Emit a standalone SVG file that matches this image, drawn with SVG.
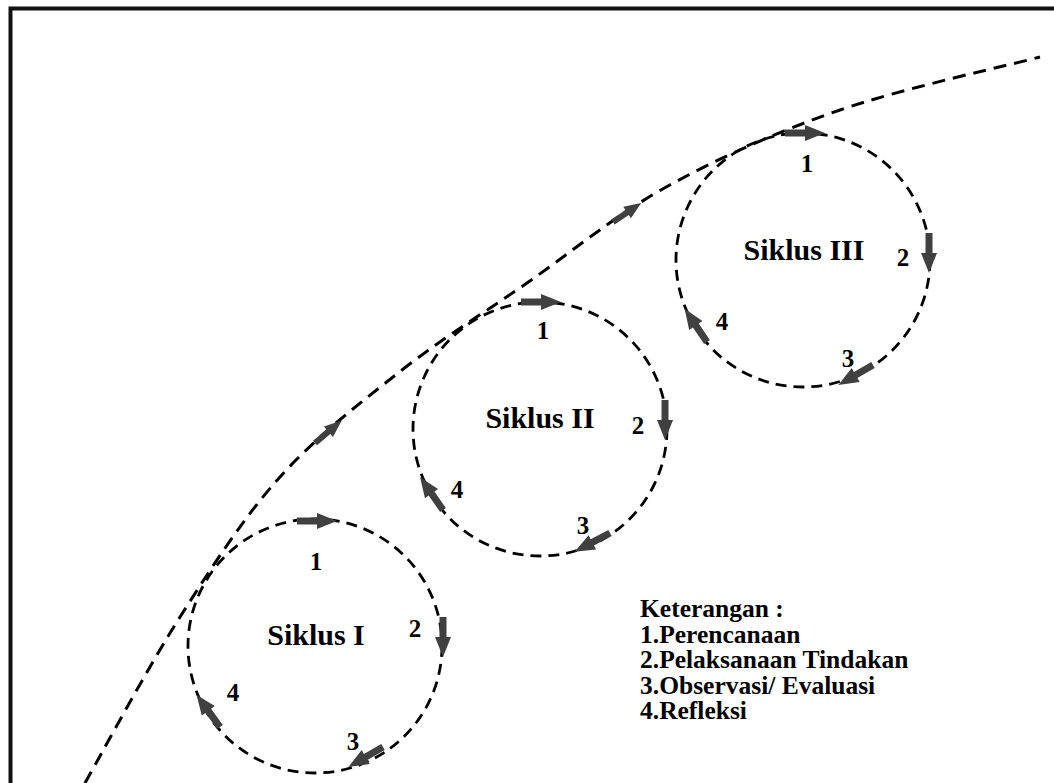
<svg xmlns="http://www.w3.org/2000/svg" width="1054" height="783" viewBox="0 0 1054 783">
<style>
.cyc{fill:none;stroke:#000;stroke-width:2.8;stroke-dasharray:11 7}
.main{fill:none;stroke:#000;stroke-width:3;stroke-dasharray:13 8}
.arw{fill:#404040}
.lbl{font-family:"Liberation Serif","Times New Roman",serif;font-weight:bold;fill:#000}
.title{font-size:30px;text-anchor:middle}
.num{font-size:25px;text-anchor:middle}
.leg{font-size:25.5px}
</style>
<defs>
<path id="arr" class="arw" d="M0,-3.5 H20 V-8 L40,0 L20,8 V3.5 H0 Z"/>
</defs>
<rect x="0" y="0" width="1054" height="783" fill="#fff"/>
<path d="M10.5,783 V8.5 H1054" fill="none" stroke="#111" stroke-width="4"/>

<g id="connectors">
<path class="main" d="M85,783 C100.8,755.3 147.5,668 180,617 C212.5,566 243,518.2 280,477 C317,435.8 360.8,402.3 402,370 C443.2,337.7 482.7,313.7 527,283 C571.3,252.3 615.8,214.8 668,186 C720.2,157.2 778,131.5 840,110 C902,88.5 1006.7,65.8 1040,57"/>
<use href="#arr" transform="translate(315,443) rotate(-40) scale(0.875)"/>
<use href="#arr" transform="translate(613,222) rotate(-34) scale(0.85)"/>
</g>

<g id="siklus1">
<circle class="cyc" cx="315" cy="646" r="127"/>
<use href="#arr" transform="translate(297,521)"/>
<use href="#arr" transform="translate(443,617) rotate(90)"/>
<use href="#arr" transform="translate(383,747) rotate(150)"/>
<use href="#arr" transform="translate(220,727) rotate(234)"/>
<text class="lbl title" x="316" y="645">Siklus I</text>
<text class="lbl num" x="316" y="570">1</text>
<text class="lbl num" x="415" y="637">2</text>
<text class="lbl num" x="353" y="750">3</text>
<text class="lbl num" x="233" y="701">4</text>
</g>

<g id="siklus2">
<circle class="cyc" cx="540" cy="429" r="127"/>
<use href="#arr" transform="translate(521,302)"/>
<use href="#arr" transform="translate(665,400) rotate(90)"/>
<use href="#arr" transform="translate(610,533) rotate(152)"/>
<use href="#arr" transform="translate(443,510) rotate(235)"/>
<text class="lbl title" x="540" y="428">Siklus II</text>
<text class="lbl num" x="543" y="339">1</text>
<text class="lbl num" x="638" y="434">2</text>
<text class="lbl num" x="583" y="534">3</text>
<text class="lbl num" x="457" y="498">4</text>
</g>

<g id="siklus3">
<circle class="cyc" cx="803" cy="260" r="127"/>
<use href="#arr" transform="translate(785,133)"/>
<use href="#arr" transform="translate(929,233) rotate(90)"/>
<use href="#arr" transform="translate(873,365) rotate(150)"/>
<use href="#arr" transform="translate(707,342) rotate(236)"/>
<text class="lbl title" x="804" y="260">Siklus III</text>
<text class="lbl num" x="807" y="172">1</text>
<text class="lbl num" x="903" y="266">2</text>
<text class="lbl num" x="848" y="367">3</text>
<text class="lbl num" x="722" y="330">4</text>
</g>

<g id="legend">
<text class="lbl leg" x="640" y="617">Keterangan :</text>
<text class="lbl leg" x="640" y="642.5">1.Perencanaan</text>
<text class="lbl leg" x="640" y="668">2.Pelaksanaan Tindakan</text>
<text class="lbl leg" x="640" y="693.5">3.Observasi/ Evaluasi</text>
<text class="lbl leg" x="640" y="719">4.Refleksi</text>
</g>
</svg>
